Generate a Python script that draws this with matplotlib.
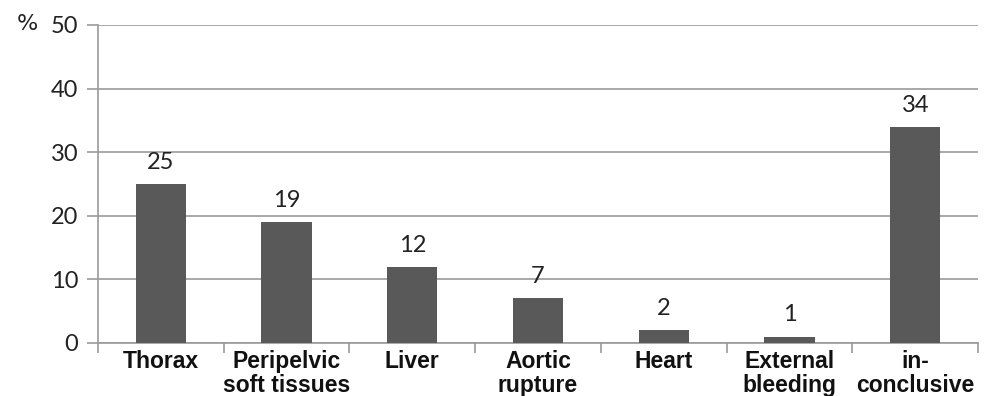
import numpy as np
import matplotlib.pyplot as plt

categories = ["Thorax", "Peripelvic\nsoft tissues", "Liver", "Aortic\nrupture",
              "Heart", "External\nbleeding", "in-\nconclusive"]
values = [25, 19, 12, 7, 2, 1, 34]
yticks = [0, 10, 20, 30, 40, 50]

fig = plt.figure(figsize=(9.89, 3.96), dpi=100)
ax = fig.add_axes([0.099, 0.134, 0.890, 0.803])

x = np.arange(len(categories))
ax.bar(x, values, width=0.4, color="#595959", zorder=3)

for xi, v in zip(x, values):
    ax.annotate(str(v), (xi, v), xytext=(0, 8), textcoords="offset points",
                ha="center", va="bottom", fontsize=17, family="Lato", color="#222222")

ax.set_xlim(-0.5, len(categories) - 0.5)
ax.set_ylim(0, 50)
ax.set_yticks(yticks)
ax.set_yticklabels([str(t) for t in yticks], fontsize=17, family="Lato", color="#222222")
ax.yaxis.grid(True, color="#9a9a9a", linewidth=1.2, zorder=0)

ax.set_xticks(x)
ax.set_xticklabels(categories, fontsize=16.5, fontweight="bold",
                   family="Liberation Sans", linespacing=1.05, color="#111111")
ax.set_xticks(np.arange(-0.5, len(categories), 1), minor=True)
ax.tick_params(axis="x", which="major", length=0, pad=5)
ax.tick_params(axis="x", which="minor", length=7, color="#9a9a9a", width=1.2)
ax.tick_params(axis="y", length=8, color="#9a9a9a", width=1.2, pad=6)

for side in ["top", "right"]:
    ax.spines[side].set_visible(False)
for side in ["left", "bottom"]:
    ax.spines[side].set_color("#9a9a9a")
    ax.spines[side].set_linewidth(1.2)

fig.text(0.017, 0.925, "%", fontsize=16, family="DejaVu Sans", color="#222222")

fig.savefig("out.png", dpi=100, facecolor="white")
